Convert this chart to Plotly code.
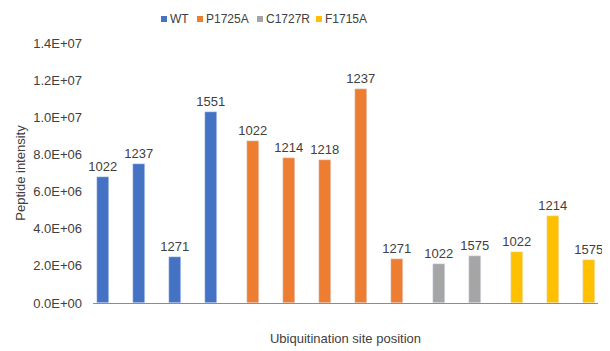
import plotly.graph_objects as go

# ---- data ----
series_names = ["WT", "P1725A", "C1727R", "F1715A"]
series_colors = ["#4472C4", "#ED7D31", "#A5A5A5", "#FFC000"]
site_labels = [
    ["1022", "1237", "1271", "1551"],
    ["1022", "1214", "1218", "1237", "1271"],
    ["1022", "1575"],
    ["1022", "1214", "1575"],
]
intensities = [
    [6.77e6, 7.47e6, 2.47e6, 1.027e7],
    [8.71e6, 7.80e6, 7.69e6, 1.15e7, 2.37e6],
    [2.08e6, 2.55e6],
    [2.74e6, 4.68e6, 2.32e6],
]
y_ticks = [0, 2e6, 4e6, 6e6, 8e6, 1.0e7, 1.2e7, 1.4e7]

# ---- layout constants ----
PAD = 8  # default body margin of the html page
W, H = 610 - PAD, 351 - PAD
L, R, T, B = 93 - PAD, 12, 43 - PAD, 48
GROUP_GAP = 1 / 6
plot_w = W - L - R
plot_h = H - T - B

fig = go.Figure()
idx = 0
for g, (name, color, labs, vals) in enumerate(zip(series_names, series_colors, site_labels, intensities)):
    xs = [idx + k + g * GROUP_GAP for k in range(len(vals))]
    idx += len(vals)
    fig.add_trace(go.Bar(
        x=xs, y=vals, name=name, marker_color=color, width=0.33,
        text=labs, textposition="outside", constraintext="none",
        textfont=dict(family="Liberation Sans, Arial", size=13, color="#404040"),
        cliponaxis=False, showlegend=False,
    ))

# custom compact legend (Excel style); pixel positions in page coordinates
legend_px = [161, 197, 257, 316]
def px_to_paper_x(px):
    return (px - PAD - L) / plot_w
def py_to_paper_y(py):
    return (H - B - (py - PAD)) / plot_h

for name, color, px in zip(series_names, series_colors, legend_px):
    fig.add_shape(type="rect", xref="paper", yref="paper",
                  x0=px_to_paper_x(px), x1=px_to_paper_x(px + 6),
                  y0=py_to_paper_y(22), y1=py_to_paper_y(16),
                  fillcolor=color, line_width=0)
    fig.add_annotation(x=px_to_paper_x(px + 7), y=py_to_paper_y(19), xref="paper", yref="paper",
                       text=name, showarrow=False, xanchor="left", yanchor="middle",
                       font=dict(family="Liberation Sans, Arial", size=12, color="#404040"))

fig.update_layout(
    width=W, height=H,
    margin=dict(l=L, r=R, t=T, b=B, autoexpand=False),
    plot_bgcolor="white", paper_bgcolor="white",
    bargap=0,
    font=dict(family="Liberation Sans, Arial", size=13, color="#595959"),
)
fig.update_xaxes(
    range=[-0.28, 13.75], showticklabels=False, showgrid=False, zeroline=False,
    showline=True, linecolor="#8C8C8C", linewidth=1, ticks="",
    title=dict(text="Ubiquitination site position", standoff=30,
               font=dict(size=13, color="#404040")),
)
fig.update_yaxes(
    range=[0, 1.4e7], tickvals=y_ticks, ticktext=[f"{v:.1E}" for v in y_ticks],
    showgrid=False, zeroline=False, showline=False, ticks="", ticklabelstandoff=10,
    tickfont=dict(size=13, color="#404040"),
    title=dict(text="Peptide intensity", standoff=4,
               font=dict(size=13, color="#404040")),
)

fig.write_html("out.html")
